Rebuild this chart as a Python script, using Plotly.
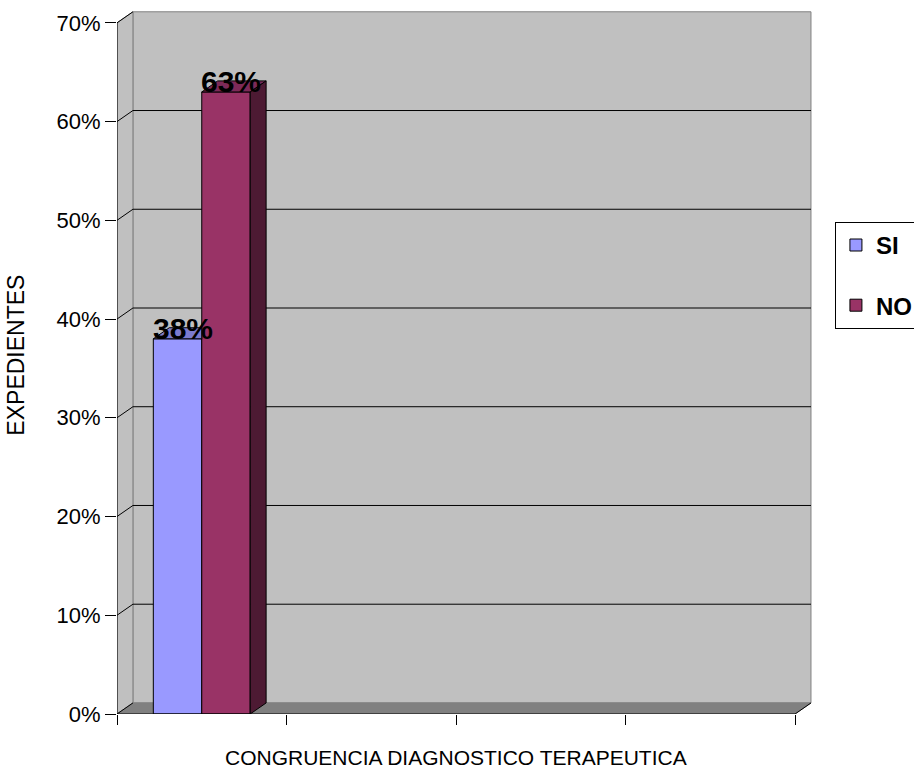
import plotly.graph_objects as go

# ---- data ----
series = ["SI", "NO"]
values = [38, 63]                     # percent
colors_front = ["#9999FF", "#993366"]
colors_top = ["#7B7BCF", "#7D2A58"]
colors_side = ["#4C4C80", "#4D1A33"]
y_ticks = [0, 10, 20, 30, 40, 50, 60, 70]
y_tick_labels = [f"{t}%" for t in y_ticks]
x_slots = [0, 1, 2, 3, 4]             # category boundaries (4 slots)
x_title = "CONGRUENCIA DIAGNOSTICO TERAPEUTICA"
y_title = "EXPEDIENTES"

FONT = "Liberation Sans, Arial, sans-serif"
DX, DY = 0.094, 1.12                  # 3D depth offset in data units
GAP = 1.5                             # Excel gap width 150%
ymax = y_ticks[-1]
xmax = x_slots[-1]

w = 1.0 / (len(series) + GAP)
cat_center = 0.5
lefts = [cat_center - w * len(series) / 2 + i * w for i in range(len(series))]

fig = go.Figure()

# front faces (real bars)
for i, (s, v) in enumerate(zip(series, values)):
    fig.add_trace(go.Bar(
        x=[cat_center], y=[v], name=s, offset=lefts[i] - cat_center, width=w,
        marker=dict(color=colors_front[i], line=dict(color="black", width=1)),
        legendgroup=s, hoverinfo="skip"))

# top and side faces
for i, (s, v) in enumerate(zip(series, values)):
    x0, x1 = lefts[i], lefts[i] + w
    hidden = i + 1 < len(values) and values[i + 1] >= v
    if hidden:
        tx = [x0, x1, x1, x0 + DX, x0]
        ty = [v, v, v + DY, v + DY, v]
    else:
        tx = [x0, x1, x1 + DX, x0 + DX, x0]
        ty = [v, v, v + DY, v + DY, v]
    fig.add_trace(go.Scatter(x=tx, y=ty, mode="lines", fill="toself",
                             fillcolor=colors_top[i], line=dict(color="black", width=1),
                             showlegend=False, hoverinfo="skip"))
    if not hidden:
        fig.add_trace(go.Scatter(x=[x1, x1 + DX, x1 + DX, x1, x1],
                                 y=[0, DY, v + DY, v, 0], mode="lines", fill="toself",
                                 fillcolor=colors_side[i], line=dict(color="black", width=1),
                                 showlegend=False, hoverinfo="skip"))

shapes = []
# back wall
shapes.append(dict(type="rect", xref="x", yref="y", x0=DX, y0=DY, x1=xmax + DX, y1=ymax + DY,
                   fillcolor="#C0C0C0", line=dict(color="#808080", width=1), layer="below"))
# side wall
shapes.append(dict(type="path", xref="x", yref="y",
                   path=f"M0,0 L{DX},{DY} L{DX},{ymax + DY} L0,{ymax} Z",
                   fillcolor="#C0C0C0", line=dict(color="#808080", width=1), layer="below"))
# floor
shapes.append(dict(type="path", xref="x", yref="y",
                   path=f"M0,0 L{xmax},0 L{xmax + DX},{DY} L{DX},{DY} Z",
                   fillcolor="#808080", line=dict(color="#808080", width=1), layer="below"))
# gridlines on back wall + side diagonals
for t in y_ticks:
    if 0 < t < ymax:
        shapes.append(dict(type="line", xref="x", yref="y", x0=DX, y0=t + DY, x1=xmax + DX, y1=t + DY,
                           line=dict(color="black", width=1), layer="below"))
    shapes.append(dict(type="line", xref="x", yref="y", x0=0, y0=t, x1=DX, y1=t + DY,
                       line=dict(color="black", width=1), layer="below"))
# front axes
shapes.append(dict(type="line", xref="x", yref="y", x0=0, y0=0, x1=0, y1=ymax,
                   line=dict(color="black", width=1)))
shapes.append(dict(type="line", xref="x", yref="y", x0=0, y0=0, x1=xmax, y1=0,
                   line=dict(color="black", width=1)))
shapes.append(dict(type="line", xref="x", yref="y", x0=xmax, y0=0, x1=xmax + DX, y1=DY,
                   line=dict(color="black", width=1)))

annotations = []
for i, v in enumerate(values):
    annotations.append(dict(x=lefts[i] + w / 2 + DX / 2 - 0.015, y=v, xref="x", yref="y",
                            text=f"<b>{v}%</b>", showarrow=False, yanchor="bottom",
                            yshift=-8, font=dict(family=FONT, size=30, color="black")))
annotations.append(dict(x=xmax / 2, y=-0.0625, xref="x", yref="paper", text=x_title,
                        showarrow=False, yanchor="middle",
                        font=dict(family=FONT, size=21, color="black")))
annotations.append(dict(x=-0.1455, y=0.511, xref="paper", yref="paper", text=y_title,
                        showarrow=False, textangle=-90, xanchor="center", yanchor="middle",
                        font=dict(family=FONT, size=23, color="black")))

fig.update_layout(
    width=914, height=773,
    margin=dict(l=117, r=102, t=11, b=59, autoexpand=False),
    paper_bgcolor="white", plot_bgcolor="white",
    barmode="overlay",
    shapes=shapes, annotations=annotations,
    showlegend=True,
    legend=dict(x=1.033, y=0.70, xanchor="left", yanchor="top",
                bgcolor="white", bordercolor="black", borderwidth=1,
                font=dict(family=FONT, size=24, color="black", weight="bold"),
                tracegroupgap=26, traceorder="grouped"),
    xaxis=dict(range=[0, xmax + 0.1], showgrid=False, zeroline=False, showline=False,
               tickmode="array", tickvals=x_slots, ticks="outside", ticklen=10,
               tickcolor="black", showticklabels=False, fixedrange=True),
    yaxis=dict(range=[0, 71.2], showgrid=False, zeroline=False, showline=False,
               tickmode="array", tickvals=y_ticks, ticktext=y_tick_labels,
               ticks="outside", ticklen=11, tickcolor="black",
               tickfont=dict(family=FONT, size=22, color="black"), fixedrange=True),
)

fig.write_html("out.html")
